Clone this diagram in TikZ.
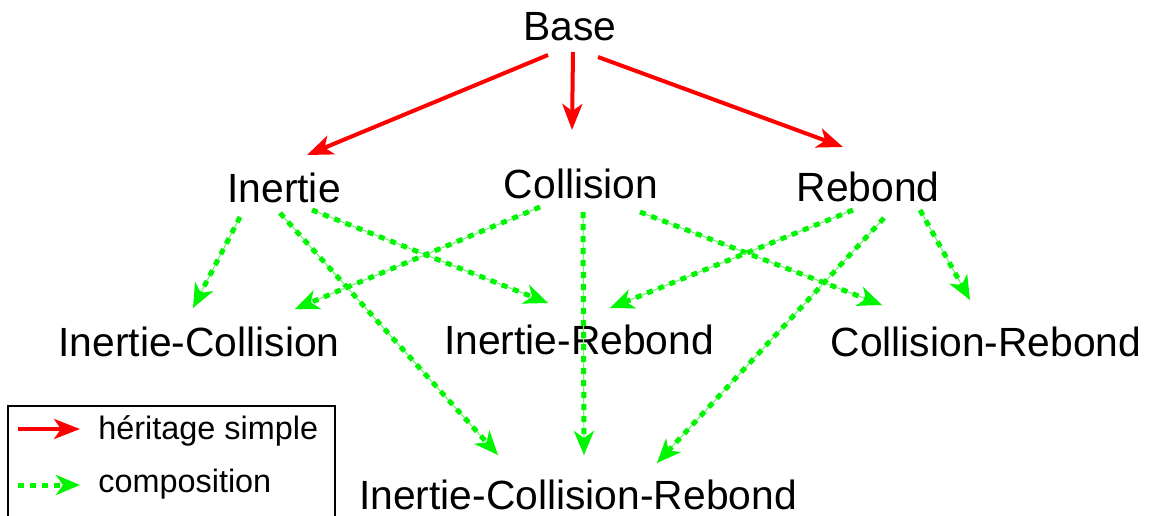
\documentclass[tikz,border=0pt]{standalone}
\usepackage{fontspec}
\setmainfont{Liberation Sans}
\usetikzlibrary{arrows.meta}
\definecolor{inhred}{RGB}{255,0,0}
\definecolor{compgreen}{RGB}{0,245,0}
\definecolor{compthin}{RGB}{150,240,150}
\begin{document}
\begin{tikzpicture}[x=0.5pt,y=-0.5pt,
  cls/.style={inner sep=0pt,font=\fontsize{20.4}{24}\selectfont},
  inh/.style={draw=inhred,line width=2pt,-{Stealth[length=13pt,width=10pt,inset=3.5pt]},fill=inhred},
  compthinline/.style={draw=compthin,line width=0.6pt},
  comp/.style={draw=compgreen,line width=2.5pt,dash pattern=on 3pt off 3pt,-{Stealth[length=12pt,width=10pt,inset=3.5pt]},fill=compgreen},
  leg/.style={inner sep=0pt,anchor=west,font=\fontsize{16.2}{19}\selectfont}]
\useasboundingbox (0,0) rectangle (1149,515);
% nodes
\node[cls] (base) at (570,27) {Base};
\node[cls] (in) at (284,188) {Inertie};
\node[cls] (co) at (581,184) {Collision};
\node[cls] (re) at (868,187) {Rebond};
\node[cls] (ic) at (199,342) {Inertie-Collision};
\node[cls] (ir) at (579,340) {Inertie-Rebond};
\node[cls] (cr) at (986,342) {Collision-Rebond};
\node[cls] (icr) at (578,495) {Inertie-Collision-Rebond};
% inheritance
\draw[inh] ([shift={(-22,28)}]base.center) -- ([shift={(23,-33)}]in.center);
\draw[inh] ([shift={(3,25)}]base.center) -- ([shift={(-9,-54)}]co.center);
\draw[inh] ([shift={(28,30)}]base.center) -- ([shift={(-25,-40)}]re.center);
% composition
\foreach \a/\sa/\b/\sb in {
  in/{(-44,29)}/ic/{(-6,-34)},
  in/{(28,22)}/ir/{(-31,-37)},
  in/{(-4,25)}/icr/{(-80,-40)},
  co/{(-41,23)}/ic/{(96,-33)},
  co/{(2,28)}/icr/{(6,-40)},
  co/{(59,28)}/cr/{(-104,-37)},
  re/{(-15,23)}/ir/{(31,-32)},
  re/{(16,31)}/icr/{(79,-32)},
  re/{(52,23)}/cr/{(-16,-42)}}{
  \draw[compthinline] ([shift=\sa]\a.center) -- ([shift=\sb]\b.center);
  \draw[comp] ([shift=\sa]\a.center) -- ([shift=\sb]\b.center);
}
% legend
\coordinate (lbl) at (8,530);
\coordinate (ltl) at (8,406);
\coordinate (ltr) at (335,406);
\coordinate (lbr) at (335,530);
\draw[line width=1pt] (lbl) -- (ltl) -- (ltr) -- (lbr);
\coordinate (l1a) at (18,429);
\coordinate (l1b) at (80,429);
\coordinate (l2a) at (18,485);
\coordinate (l2b) at (80,485);
\draw[inh] (l1a) -- (l1b);
\draw[comp] (l2a) -- (l2b);
\node[leg] (t1) at (98,431) {héritage simple};
\node[leg] (t2) at (98,484) {composition};
\end{tikzpicture}
\end{document}
